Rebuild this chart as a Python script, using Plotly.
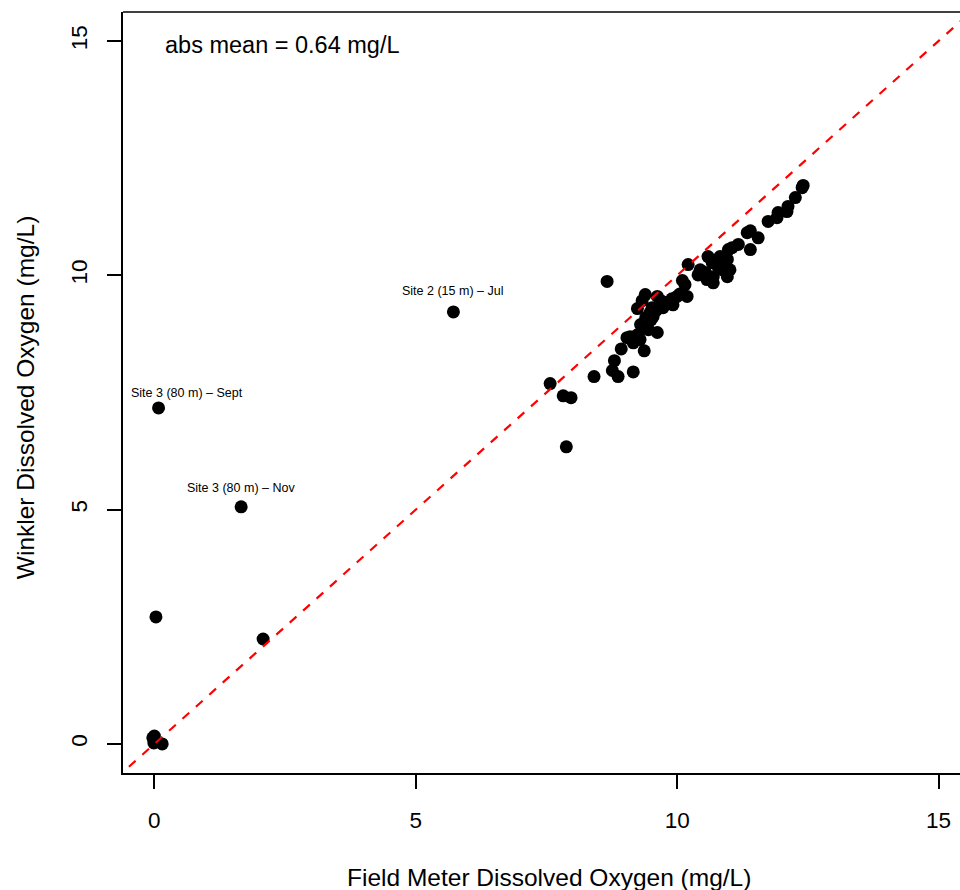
import plotly.graph_objects as go

# Field meter DO (x) and Winkler DO (y), mg/L
field_do = [
    -0.01, 0.00, -0.03, 0.15, 0.03, 0.08, 1.66, 2.08, 5.72,
    7.57, 7.82, 7.97, 7.88, 8.41, 8.76, 8.87, 8.80, 9.16, 8.93, 9.37, 8.66,
    10.21, 10.10, 10.15, 9.39, 9.33, 9.24, 9.62, 9.81, 10.00, 10.19, 9.48,
    9.43, 9.35, 9.62, 9.10, 9.16, 9.29, 9.52, 9.73, 9.92, 9.54, 9.45, 9.24, 9.04,
    9.90, 10.05, 9.70, 9.60, 9.40, 9.30, 9.50,
    12.41, 12.39, 12.26, 12.12, 12.10, 11.93, 11.91, 11.74, 11.40, 11.55,
    11.34, 11.17, 11.05, 10.98, 11.40, 10.82, 10.59, 10.96, 10.67, 10.44,
    10.54, 10.69, 10.86, 11.01, 10.69, 10.57, 10.40, 10.96, 10.78,
]
winkler_do = [
    0.02, 0.17, 0.13, 0.00, 2.71, 7.17, 5.06, 2.24, 9.22,
    7.69, 7.43, 7.39, 6.34, 7.84, 7.97, 7.84, 8.18, 7.94, 8.43, 8.39, 9.87,
    10.23, 9.89, 9.80, 9.59, 9.46, 9.29, 9.55, 9.42, 9.55, 9.55, 9.20,
    9.01, 8.88, 8.78, 8.69, 8.56, 8.63, 9.31, 9.31, 9.37, 9.12, 8.84, 8.73, 8.67,
    9.50, 9.60, 9.45, 9.25, 9.10, 8.95, 9.05,
    11.92, 11.87, 11.66, 11.47, 11.36, 11.34, 11.23, 11.15, 10.95, 10.80,
    10.91, 10.66, 10.59, 10.55, 10.55, 10.40, 10.40, 10.34, 10.27, 10.12,
    10.06, 9.97, 10.12, 10.12, 9.84, 9.91, 10.01, 9.97, 10.19,
]

label_texts = ["Site 3 (80 m) \u2013 Sept", "Site 3 (80 m) \u2013 Nov", "Site 2 (15 m) \u2013 Jul"]
label_x = [0.62, 1.65, 5.71]
label_y = [7.49, 5.46, 9.66]

tick_vals = [0, 5, 10, 15]
one_to_one = [-1, 17]

FONT = "Liberation Sans, Arial, sans-serif"

fig = go.Figure()
fig.add_trace(go.Scatter(
    x=field_do, y=winkler_do, mode="markers",
    marker=dict(color="black", size=13, line=dict(width=0)),
    hoverinfo="x+y", showlegend=False,
))
fig.add_trace(go.Scatter(
    x=one_to_one, y=one_to_one, mode="lines",
    line=dict(color="#ff0000", width=2.2, dash="dash"),
    showlegend=False, hoverinfo="skip",
))

for t, lx, ly in zip(label_texts, label_x, label_y):
    fig.add_annotation(x=lx, y=ly, text=t, showarrow=False,
                       font=dict(size=12.5, color="black", family=FONT),
                       xanchor="center", yanchor="middle")

fig.add_annotation(x=0.048, y=0.957, xref="paper", yref="paper",
                   text="abs mean = 0.64 mg/L", showarrow=False,
                   xanchor="left", yanchor="middle",
                   font=dict(size=23.5, color="black", family=FONT))

# axis titles
fig.add_annotation(x=7.55, y=0, xref="x", yref="paper", yshift=-104,
                   text="Field Meter Dissolved Oxygen (mg/L)", showarrow=False,
                   xanchor="center", yanchor="middle",
                   font=dict(size=24.5, color="black", family=FONT))
fig.add_annotation(x=0, y=7.4, xref="paper", yref="y", xshift=-98,
                   text="Winkler Dissolved Oxygen (mg/L)", showarrow=False,
                   textangle=-90, xanchor="center", yanchor="middle",
                   font=dict(size=24.5, color="black", family=FONT))

# top border of the box
fig.add_shape(type="line", xref="paper", yref="paper", x0=0, x1=1, y0=1, y1=1,
              line=dict(color="black", width=1.5))

fig.update_layout(
    width=960, height=890,
    margin=dict(l=123, r=0, t=12, b=117),
    paper_bgcolor="white", plot_bgcolor="white",
    font=dict(family=FONT, size=22.5, color="black"),
    showlegend=False,
)
fig.update_xaxes(
    range=[-0.6, 15.41], tickvals=tick_vals, ticktext=[str(v) for v in tick_vals],
    showgrid=False, zeroline=False, showline=True, linecolor="black", linewidth=1.5,
    ticks="outside", ticklen=14, tickwidth=1.5, tickcolor="black",
    tickfont=dict(size=22.5, family=FONT), ticklabelstandoff=12,
)
fig.update_yaxes(
    range=[-0.62, 15.62], tickvals=tick_vals, ticktext=[str(v) for v in tick_vals],
    showgrid=False, zeroline=False, showline=True, linecolor="black", linewidth=1.5,
    ticks="outside", ticklen=14, tickwidth=1.5, tickcolor="black",
    tickfont=dict(size=22.5, family=FONT), tickangle=-90, ticklabelstandoff=11,
)

fig.write_html("out.html", config={"displayModeBar": False},
               post_script="document.body.style.margin='0';document.body.style.overflow='hidden';")
